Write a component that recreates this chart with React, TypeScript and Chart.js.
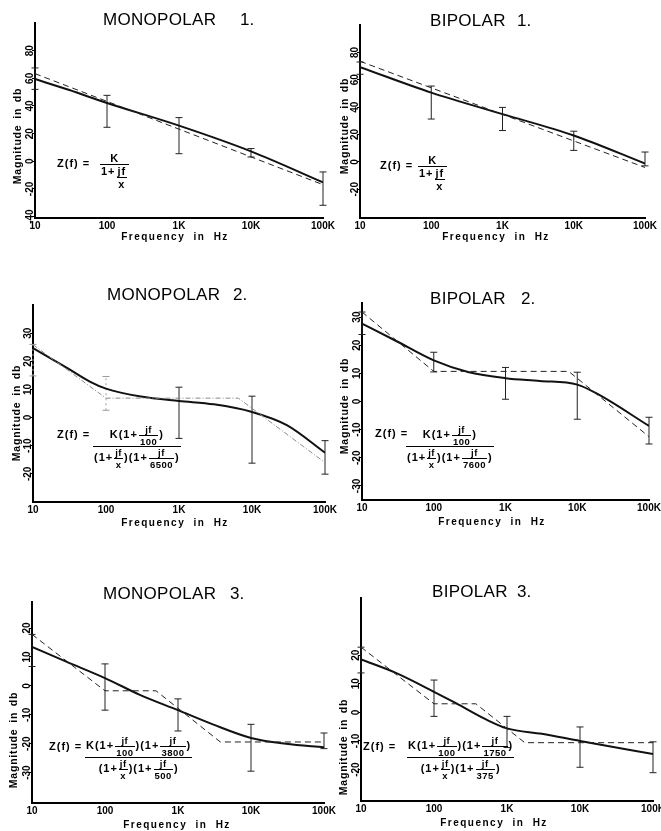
import React, { useEffect, useRef } from 'react';
import { Chart, registerables } from 'chart.js';

Chart.register(...registerables);

// ---------- shared axis data ----------
const FREQ_TICKS = [10, 100, 1000, 10000, 100000];
const FREQ_LABELS = ['10', '100', '1K', '10K', '100K'];

// ---------- MONOPOLAR 1 ----------
const M1_FIT_HZ = [10, 30, 100, 1000, 10000, 100000];
const M1_FIT_DB = [59.5, 51.5, 42.2, 25.8, 7.2, -15.2];
const M1_ASYM_HZ = [10, 100000];
const M1_ASYM_DB = [63.4, -16.9];
const M1_BAR_HZ = [10, 100, 1000, 10000, 100000];
const M1_BAR_HI = [67.5, 47.7, 31.6, 9.2, -7.7];
const M1_BAR_LO = [52, 24.6, 5.5, 3.1, -31.8];
const M1_DB_TICKS = [-40, -20, 0, 20, 40, 60, 80];
const M1_DB_RANGE = [-41, 100];

// ---------- BIPOLAR 1 ----------
const B1_FIT_HZ = [10, 100, 1000, 10000, 100000];
const B1_FIT_DB = [69.2, 50.6, 34.9, 19.3, -1.2];
const B1_ASYM_HZ = [10, 100000];
const B1_ASYM_DB = [73.5, -4.1];
const B1_BAR_HZ = [10, 100, 1000, 10000, 100000];
const B1_BAR_HI = [73, 55.4, 39.8, 22.4, 7.2];
const B1_BAR_LO = [64, 31.3, 22.9, 8.4, -2.9];
const B1_DB_TICKS = [-20, 0, 20, 40, 60, 80];
const B1_DB_RANGE = [-41, 100];

// ---------- MONOPOLAR 2 ----------
const M2_FIT_HZ = [10, 30, 60, 100, 300, 1000, 3000, 10000, 30000, 100000];
const M2_FIT_DB = [24.7, 17.5, 12.8, 10.3, 7.5, 5.9, 4.7, 2.0, -2.7, -12.5];
const M2_ASYM_HZ = [10, 100, 6500, 100000];
const M2_ASYM_DB = [25.9, 6.9, 6.9, -16];
const M2_BAR_HZ = [10, 100, 1000, 10000, 100000];
const M2_BAR_HI = [26, 14.6, 10.8, 7.6, -8.2];
const M2_BAR_LO = [14.8, 2.6, -7.4, -16.2, -20.1];
const M2_DB_TICKS = [-20, -10, 0, 10, 20, 30];
const M2_DB_RANGE = [-30, 40];

// ---------- BIPOLAR 2 ----------
const B2_FIT_HZ = [10, 30, 100, 300, 1000, 3000, 10000, 20000, 100000];
const B2_FIT_DB = [27.7, 21.5, 14.6, 10.5, 8.3, 7.3, 6.0, 2.4, -8.7];
const B2_ASYM_HZ = [10, 100, 7600, 100000];
const B2_ASYM_DB = [31.8, 10.7, 10.7, -12.5];
const B2_BAR_HZ = [10, 100, 1000, 10000, 100000];
const B2_BAR_HI = [31.8, 17.5, 12.1, 10.4, -5.6];
const B2_BAR_LO = [23.8, 10.5, 0.8, -6.3, -15.1];
const B2_DB_TICKS = [-30, -20, -10, 0, 10, 20, 30];
const B2_DB_RANGE = [-35, 35];

// ---------- MONOPOLAR 3 ----------
const M3_FIT_HZ = [10, 30, 100, 300, 1000, 3000, 10000, 30000, 100000];
const M3_FIT_DB = [13.5, 8.3, 2.7, -3.1, -8.4, -13.3, -18.0, -20.0, -21.2];
const M3_ASYM_HZ = [10, 100, 500, 3800, 100000];
const M3_ASYM_DB = [17.8, -1.7, -1.7, -19.4, -19.4];
const M3_BAR_HZ = [10, 100, 1000, 10000, 100000];
const M3_BAR_HI = [17.8, 7.6, -4.5, -13.3, -16.3];
const M3_BAR_LO = [6.7, -8.4, -15.6, -29.5, -21.7];
const M3_DB_TICKS = [-30, -20, -10, 0, 10, 20];
const M3_DB_RANGE = [-40.5, 29];

// ---------- BIPOLAR 3 ----------
const B3_FIT_HZ = [10, 30, 100, 200, 500, 1000, 3000, 10000, 100000];
const B3_FIT_DB = [18.5, 13.8, 7.2, 3.2, -2.3, -5.6, -7.5, -10.0, -14.6];
const B3_ASYM_HZ = [10, 100, 375, 1750, 100000];
const B3_ASYM_DB = [22.8, 3.0, 3.0, -10.6, -10.6];
const B3_BAR_HZ = [10, 100, 1000, 10000, 100000];
const B3_BAR_HI = [22.8, 11.3, -1.4, -5.1, -10.3];
const B3_BAR_LO = [13.8, -1.4, -12.3, -19.2, -21.1];
const B3_DB_TICKS = [-20, -10, 0, 10, 20];
const B3_DB_RANGE = [-31, 40];

// ---------- layout constants ----------
const FONT = '"Liberation Sans", Arial, Helvetica, sans-serif';
const Y_AXIS_W = 30;
const TOP_PAD = 10;
const RIGHT_PAD = 15;
const X_AXIS_H = 18;

const pts = (xs: number[], ys: number[]) => xs.map((x, i) => ({ x, y: ys[i] }));

function makeConfig(p: any): any {
  const datasets: any[] = [];
  datasets.push({
    data: pts(p.asymHz, p.asymDb),
    borderColor: p.asymColor,
    borderWidth: 1,
    borderDash: p.asymDash,
    pointRadius: 0,
    tension: 0,
    fill: false,
  });
  datasets.push({
    data: pts(p.fitHz, p.fitDb),
    borderColor: '#111',
    borderWidth: 2,
    pointRadius: 0,
    cubicInterpolationMode: 'monotone',
    fill: false,
  });
  p.barHz.forEach((x: number, i: number) => {
    const faint = p.faintBars && p.faintBars.includes(i);
    const c = faint ? '#9a9a9a' : '#222';
    datasets.push({
      data: [{ x, y: p.barLo[i] }, { x, y: p.barHi[i] }],
      borderColor: c,
      borderWidth: 1,
      borderDash: faint ? [2, 3] : [],
      pointStyle: 'line',
      pointRadius: 3.5,
      pointBorderWidth: 1,
      pointBorderColor: c,
      pointBackgroundColor: c,
      tension: 0,
      clip: false,
      fill: false,
    });
  });
  return {
    type: 'line',
    data: { datasets },
    options: {
      animation: false,
      responsive: false,
      events: [],
      layout: { padding: { top: TOP_PAD, right: RIGHT_PAD, left: 0, bottom: 0 } },
      plugins: { legend: { display: false }, tooltip: { enabled: false }, title: { display: false } },
      scales: {
        x: {
          type: 'logarithmic',
          min: 10,
          max: 100000,
          afterBuildTicks: (s: any) => {
            s.ticks = FREQ_TICKS.map((v) => ({ value: v }));
          },
          afterFit: (s: any) => {
            s.height = X_AXIS_H;
          },
          ticks: {
            autoSkip: false,
            minRotation: 0,
            maxRotation: 0,
            padding: 2,
            color: '#000',
            font: { family: FONT, size: 10, weight: 'bold' },
            callback: (_v: any, i: number) => FREQ_LABELS[i],
          },
          grid: { display: false, drawTicks: false },
          border: { display: true, color: '#000', width: 2 },
        },
        y: {
          type: 'linear',
          min: p.range[0],
          max: p.range[1],
          afterBuildTicks: (s: any) => {
            s.ticks = p.dbTicks.map((v: number) => ({ value: v }));
          },
          afterFit: (s: any) => {
            s.width = Y_AXIS_W;
          },
          ticks: {
            autoSkip: false,
            minRotation: 90,
            maxRotation: 90,
            crossAlign: 'center',
            padding: -5,
            color: '#000',
            font: { family: FONT, size: 10, weight: 'bold' },
            callback: (v: any) => String(v),
          },
          grid: { display: true, drawOnChartArea: false, drawTicks: true, tickLength: 3, color: '#000', lineWidth: 1 },
          border: { display: true, color: '#000', width: 2 },
        },
      },
    },
  };
}

const Frac = ({ n, d, fs, va, bar }: any) => (
  <span
    style={{
      display: 'inline-flex',
      flexDirection: 'column',
      alignItems: 'center',
      verticalAlign: va || 'middle',
      fontSize: fs,
      lineHeight: 1.0,
      margin: '0 1px',
    }}
  >
    <span style={{ padding: '0 1px', whiteSpace: 'nowrap' }}>{n}</span>
    <span
      style={{
        borderTop: `${bar || 1}px solid #000`,
        padding: '1px 1px 0 1px',
        alignSelf: 'stretch',
        textAlign: 'center',
        whiteSpace: 'nowrap',
      }}
    >
      {d}
    </span>
  </span>
);

const Abs = ({ left, top, children, style }: any) => (
  <div
    style={{
      position: 'absolute',
      left,
      top,
      whiteSpace: 'nowrap',
      fontFamily: FONT,
      fontWeight: 'bold',
      color: '#000',
      lineHeight: 1,
      ...style,
    }}
  >
    {children}
  </div>
);

const small = 9.5;
const fStyle = { fontSize: 11, letterSpacing: 1 };
const sStyle = { letterSpacing: 0.5 };

const S = ({ n, d }: any) => (
  <span style={sStyle}>
    <Frac fs={small} n={n} d={d} />
  </span>
);

const PANELS: any[] = [
  {
    key: 'm1',
    name: 'MONOPOLAR',
    num: '1.',
    title: { left: 103, top: 11, numLeft: 240 },
    plot: { l: 35, t: 23, r: 323, b: 218 },
    xTitle: { cx: 175, cy: 237 },
    yTitle: { cx: 17, cy: 136 },
    fitHz: M1_FIT_HZ, fitDb: M1_FIT_DB, asymHz: M1_ASYM_HZ, asymDb: M1_ASYM_DB,
    barHz: M1_BAR_HZ, barHi: M1_BAR_HI, barLo: M1_BAR_LO, dbTicks: M1_DB_TICKS, range: M1_DB_RANGE,
    asymColor: '#222', asymDash: [6, 4],
    formula: (
      <>
        <Abs left={57} top={158} style={fStyle}>Z(f) =</Abs>
        <Abs left={99} top={153} style={fStyle}>
          <Frac bar={1.3} n="K" d={<>1+<Frac va="baseline" fs={11} n="jf" d="x" /></>} />
        </Abs>
      </>
    ),
  },
  {
    key: 'b1',
    name: 'BIPOLAR',
    num: '1.',
    title: { left: 430, top: 12, numLeft: 517 },
    plot: { l: 360, t: 25, r: 645, b: 218 },
    xTitle: { cx: 496, cy: 237 },
    yTitle: { cx: 344, cy: 126 },
    fitHz: B1_FIT_HZ, fitDb: B1_FIT_DB, asymHz: B1_ASYM_HZ, asymDb: B1_ASYM_DB,
    barHz: B1_BAR_HZ, barHi: B1_BAR_HI, barLo: B1_BAR_LO, dbTicks: B1_DB_TICKS, range: B1_DB_RANGE,
    asymColor: '#222', asymDash: [6, 4],
    formula: (
      <>
        <Abs left={380} top={160} style={fStyle}>Z(f) =</Abs>
        <Abs left={417} top={155} style={fStyle}>
          <Frac bar={1.3} n="K" d={<>1+<Frac va="baseline" fs={11} n="jf" d="x" /></>} />
        </Abs>
      </>
    ),
  },
  {
    key: 'm2',
    name: 'MONOPOLAR',
    num: '2.',
    title: { left: 107, top: 286, numLeft: 233 },
    plot: { l: 33, t: 305, r: 325, b: 502 },
    xTitle: { cx: 175, cy: 523 },
    yTitle: { cx: 16, cy: 413 },
    fitHz: M2_FIT_HZ, fitDb: M2_FIT_DB, asymHz: M2_ASYM_HZ, asymDb: M2_ASYM_DB,
    barHz: M2_BAR_HZ, barHi: M2_BAR_HI, barLo: M2_BAR_LO, dbTicks: M2_DB_TICKS, range: M2_DB_RANGE,
    asymColor: '#8a8a8a', asymDash: [5, 2, 1, 2], faintBars: [0, 1],
    formula: (
      <>
        <Abs left={57} top={429} style={fStyle}>Z(f) =</Abs>
        <Abs left={92} top={425} style={fStyle}>
          <Frac
            bar={1.3}
            n={<>K(1+<S n="jf" d="100" />)</>}
            d={<>(1+<S n="jf" d="x" />)(1+<S n="jf" d="6500" />)</>}
          />
        </Abs>
      </>
    ),
  },
  {
    key: 'b2',
    name: 'BIPOLAR',
    num: '2.',
    title: { left: 430, top: 290, numLeft: 521 },
    plot: { l: 362, t: 303, r: 649, b: 500 },
    xTitle: { cx: 492, cy: 522 },
    yTitle: { cx: 344, cy: 406 },
    fitHz: B2_FIT_HZ, fitDb: B2_FIT_DB, asymHz: B2_ASYM_HZ, asymDb: B2_ASYM_DB,
    barHz: B2_BAR_HZ, barHi: B2_BAR_HI, barLo: B2_BAR_LO, dbTicks: B2_DB_TICKS, range: B2_DB_RANGE,
    asymColor: '#222', asymDash: [6, 4],
    formula: (
      <>
        <Abs left={375} top={428} style={fStyle}>Z(f) =</Abs>
        <Abs left={405} top={425} style={fStyle}>
          <Frac
            bar={1.3}
            n={<>K(1+<S n="jf" d="100" />)</>}
            d={<>(1+<S n="jf" d="x" />)(1+<S n="jf" d="7600" />)</>}
          />
        </Abs>
      </>
    ),
  },
  {
    key: 'm3',
    name: 'MONOPOLAR',
    num: '3.',
    title: { left: 103, top: 585, numLeft: 230 },
    plot: { l: 32, t: 602, r: 324, b: 803 },
    xTitle: { cx: 177, cy: 825 },
    yTitle: { cx: 13, cy: 740 },
    fitHz: M3_FIT_HZ, fitDb: M3_FIT_DB, asymHz: M3_ASYM_HZ, asymDb: M3_ASYM_DB,
    barHz: M3_BAR_HZ, barHi: M3_BAR_HI, barLo: M3_BAR_LO, dbTicks: M3_DB_TICKS, range: M3_DB_RANGE,
    asymColor: '#222', asymDash: [6, 4],
    formula: (
      <>
        <Abs left={49} top={741} style={fStyle}>Z(f) =</Abs>
        <Abs left={84} top={736} style={fStyle}>
          <Frac
            bar={1.3}
            n={<>K(1+<S n="jf" d="100" />)(1+<S n="jf" d="3800" />)</>}
            d={<>(1+<S n="jf" d="x" />)(1+<S n="jf" d="500" />)</>}
          />
        </Abs>
      </>
    ),
  },
  {
    key: 'b3',
    name: 'BIPOLAR',
    num: '3.',
    title: { left: 432, top: 583, numLeft: 517 },
    plot: { l: 361, t: 598, r: 653, b: 801 },
    xTitle: { cx: 494, cy: 823 },
    yTitle: { cx: 343, cy: 747 },
    fitHz: B3_FIT_HZ, fitDb: B3_FIT_DB, asymHz: B3_ASYM_HZ, asymDb: B3_ASYM_DB,
    barHz: B3_BAR_HZ, barHi: B3_BAR_HI, barLo: B3_BAR_LO, dbTicks: B3_DB_TICKS, range: B3_DB_RANGE,
    asymColor: '#222', asymDash: [6, 4],
    formula: (
      <>
        <Abs left={363} top={741} style={fStyle}>Z(f) =</Abs>
        <Abs left={406} top={736} style={fStyle}>
          <Frac
            bar={1.3}
            n={<>K(1+<S n="jf" d="100" />)(1+<S n="jf" d="1750" />)</>}
            d={<>(1+<S n="jf" d="x" />)(1+<S n="jf" d="375" />)</>}
          />
        </Abs>
      </>
    ),
  },
];

function Panel({ p }: any) {
  const ref = useRef<HTMLCanvasElement>(null);
  useEffect(() => {
    const chart = new Chart(ref.current as HTMLCanvasElement, makeConfig(p));
    return () => chart.destroy();
  }, []);
  const { l, t, r, b } = p.plot;
  const cl = l - Y_AXIS_W;
  const ct = t - TOP_PAD;
  const cw = r - l + Y_AXIS_W + RIGHT_PAD;
  const ch = b - t + TOP_PAD + X_AXIS_H;
  return (
    <>
      <canvas ref={ref} width={cw} height={ch} style={{ position: 'absolute', left: cl, top: ct, width: cw, height: ch }} />
      <Abs left={p.title.left} top={p.title.top} style={{ fontSize: 17, fontWeight: 'normal', letterSpacing: 0.3 }}>
        {p.name}
      </Abs>
      <Abs left={p.title.numLeft} top={p.title.top} style={{ fontSize: 17, fontWeight: 'normal' }}>
        {p.num}
      </Abs>
      <div
        style={{
          position: 'absolute',
          left: p.xTitle.cx,
          top: p.xTitle.cy,
          transform: 'translate(-50%, -50%)',
          whiteSpace: 'nowrap',
          fontFamily: FONT,
          fontWeight: 'bold',
          fontSize: 10,
          letterSpacing: 1.5,
          wordSpacing: 4,
          lineHeight: 1,
        }}
      >
        Frequency in Hz
      </div>
      <div
        style={{
          position: 'absolute',
          left: p.yTitle.cx,
          top: p.yTitle.cy,
          transform: 'translate(-50%, -50%) rotate(-90deg)',
          whiteSpace: 'nowrap',
          fontFamily: FONT,
          fontWeight: 'bold',
          fontSize: 10.5,
          letterSpacing: 0.8,
          wordSpacing: 2,
          lineHeight: 1,
        }}
      >
        Magnitude in db
      </div>
      {p.formula}
    </>
  );
}

export default function App() {
  return (
    <div
      style={{
        position: 'absolute',
        left: 0,
        top: 0,
        width: 661,
        height: 831,
        overflow: 'hidden',
        background: '#fff',
      }}
    >
      {PANELS.map((p) => (
        <Panel key={p.key} p={p} />
      ))}
    </div>
  );
}
